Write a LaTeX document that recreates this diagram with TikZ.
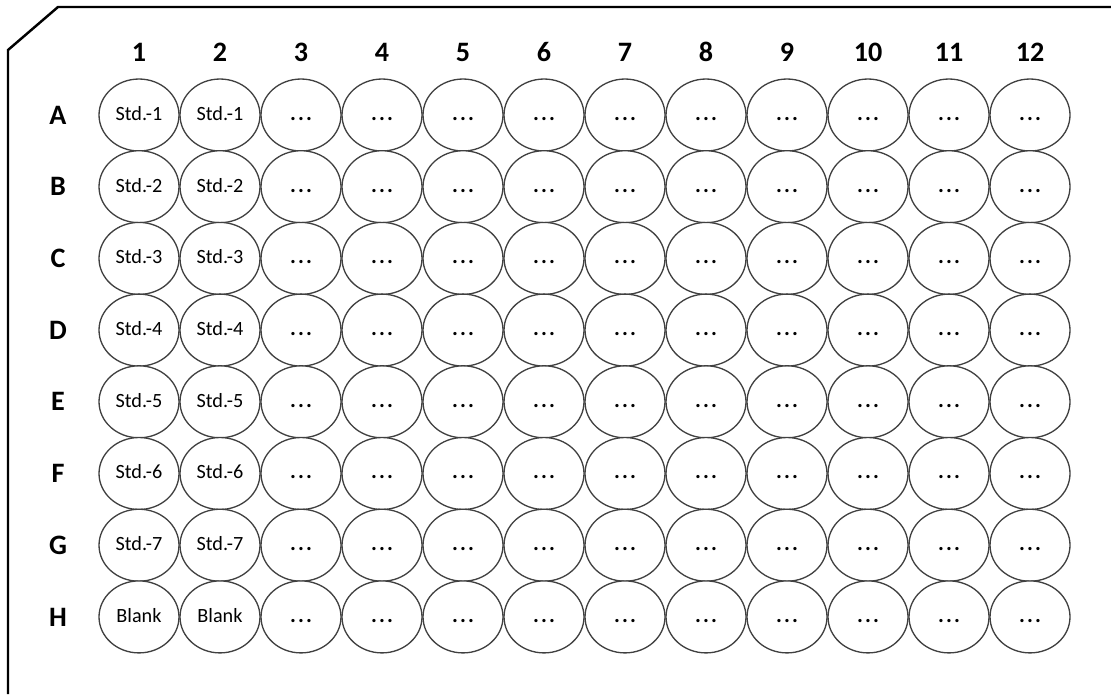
\documentclass[tikz,border=0pt]{standalone}
\usepackage{fontspec}
\setmainfont[Numbers=Lining]{Carlito}
\usetikzlibrary{shapes.geometric}
\tikzset{
  well/.style={ellipse, draw=black!75, line width=0.75pt, fill=white,
    minimum width=1.6cm, minimum height=1.44cm, inner sep=0pt,
    text height=1.6ex, text depth=.3ex,
    font=\fontsize{11.5}{13}\selectfont},
  headlab/.style={font=\bfseries\fontsize{16}{19}\selectfont},
  plate/.style={line width=1.4pt, black},
}
\newcommand{\wdots}{\textbf{\fontsize{12.5}{13}\selectfont.\kern1.2pt.\kern1.2pt.}}
\begin{document}
\begin{tikzpicture}[x=0.02cm, y=-0.02cm]
  \useasboundingbox (0,0) rectangle (1111,694);
  % plate outline with cut corner
  \draw[plate] (1111,7) -- (58,7) -- (8,50) -- (8,694);
  % column numbers
  \foreach \c in {1,...,12}
    \node[headlab] (col-\c) at ({139+81*(\c-1)},52) {\c};
  % rows of wells
  \foreach \r/\lbl [count=\i] in {A/Std.-1, B/Std.-2, C/Std.-3, D/Std.-4,
      E/Std.-5, F/Std.-6, G/Std.-7, H/Blank} {
    \node[headlab] (row-\r) at (58,{115+71.7*(\i-1)}) {\r};
    \foreach \c in {1,...,12}
      \node[well] (w-\r-\c) at ({139+81*(\c-1)},{115+71.7*(\i-1)})
        {\ifnum\c<3 \lbl\else\wdots\fi};
  }
\end{tikzpicture}
\end{document}
